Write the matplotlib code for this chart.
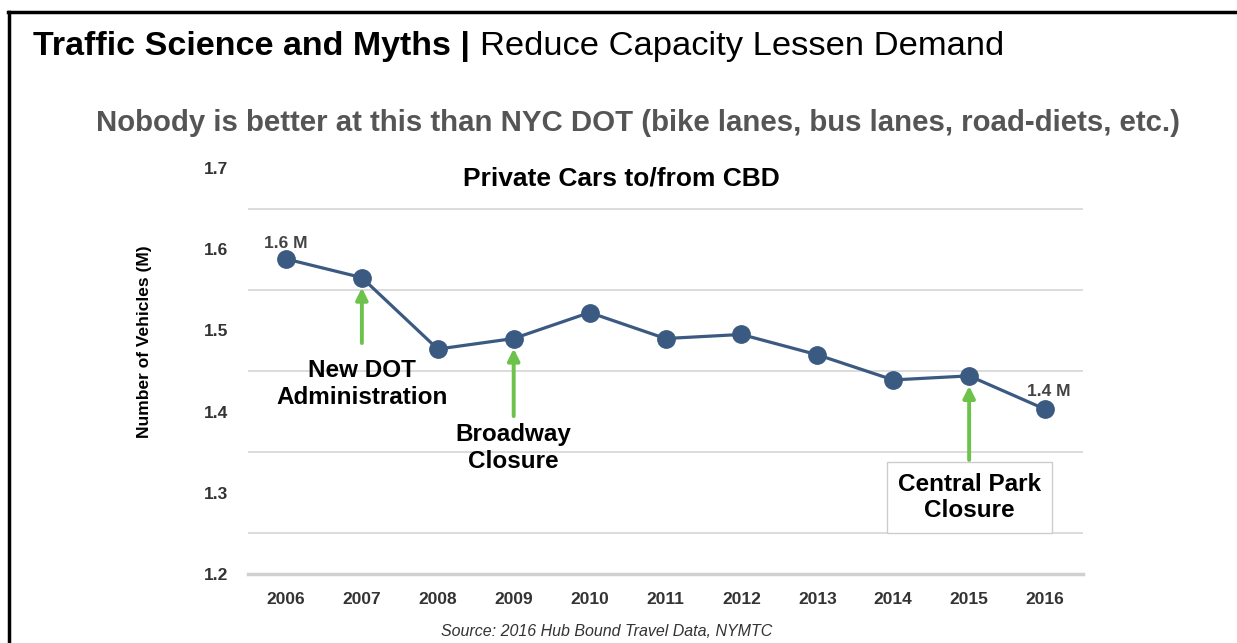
import numpy as np
import matplotlib.pyplot as plt
from matplotlib.lines import Line2D

plt.rcParams['font.family'] = ['Liberation Sans', 'DejaVu Sans']

years = [2006, 2007, 2008, 2009, 2010, 2011, 2012, 2013, 2014, 2015, 2016]
cars = [1.588, 1.565, 1.477, 1.490, 1.522, 1.490, 1.495, 1.470, 1.439, 1.444, 1.403]
yticks = [1.2, 1.3, 1.4, 1.5, 1.6, 1.7]
events = ['New DOT\nAdministration', 'Broadway\nClosure', 'Central Park\nClosure']
event_years = [2007, 2009, 2015]

blue = '#3b5a82'
green = '#6cc24a'

fig = plt.figure(figsize=(12.37, 6.43), dpi=100)
fig.patch.set_facecolor('white')

# slide frame (top + left only)
fig.add_artist(Line2D([8/1237, 1.0], [1 - 12/643, 1 - 12/643], color='black', lw=2.5))
fig.add_artist(Line2D([9/1237, 9/1237], [1 - 12/643, 0], color='black', lw=2.5))

fig.text(33/1237, 1 - 46/643, 'Traffic Science and Myths |', fontsize=24.5,
         fontweight='bold', va='center', ha='left')
fig.text(480/1237, 1 - 46/643, 'Reduce Capacity Lessen Demand', fontsize=24.8,
         va='center', ha='left')
fig.text(638/1237, 1 - 123/643,
         'Nobody is better at this than NYC DOT (bike lanes, bus lanes, road-diets, etc.)',
         fontsize=21.2, fontweight='bold', color='#555555', ha='center', va='center')
fig.text(607/1237, 1 - 631/643, 'Source: 2016 Hub Bound Travel Data, NYMTC',
         fontsize=11.5, style='italic', color='#333333', ha='center', va='center')
fig.text(621/1237, 1 - 179/643, 'Private Cars to/from CBD', fontsize=19,
         fontweight='bold', ha='center', va='center')
fig.text(145/1237, 1 - 342/643, 'Number of Vehicles (M)', rotation=90,
         fontsize=12.5, fontweight='bold', ha='center', va='center')

ax = fig.add_axes([248/1237, 1 - 574/643, 835/1237, 406/643])
ax.plot(years, cars, color=blue, lw=2.3, marker='o', ms=12.5, zorder=3)

ax.set_xlim(2005.5, 2016.5)
ax.set_ylim(1.2, 1.7)
ax.set_xticks(years)
ax.set_yticks(yticks)
ax.set_yticks(np.arange(1.25, 1.66, 0.1), minor=True)
ax.tick_params(which='both', length=0)
ax.tick_params(axis='y', pad=14, labelsize=12.5, labelcolor='#333333')
ax.tick_params(axis='x', pad=13, labelsize=12.5, labelcolor='#333333')
for lab in ax.get_xticklabels() + ax.get_yticklabels():
    lab.set_fontweight('bold')
ax.grid(which='minor', axis='y', color='#d9d9d9', lw=1.3)
for s in ['top', 'right', 'left']:
    ax.spines[s].set_visible(False)
ax.spines['bottom'].set_color('#d0d0d0')
ax.spines['bottom'].set_linewidth(2.5)

ax.text(2006.0, 1.607, '1.6 M', fontsize=12.5, fontweight='bold', color='#444444',
        ha='center', va='center')
ax.text(2016.05, 1.425, '1.4 M', fontsize=12.5, fontweight='bold', color='#444444',
        ha='center', va='center')

arrow_tips = [1.556, 1.481, 1.435]
arrow_tails = [1.481, 1.391, 1.337]
text_y = [1.434, 1.355, 1.294]
for name, yr, tip, tail, ty in zip(events, event_years, arrow_tips, arrow_tails, text_y):
    ax.annotate('', xy=(yr, tip), xytext=(yr, tail),
                arrowprops=dict(arrowstyle='-|>,head_width=0.35,head_length=0.7',
                                color=green, lw=2.8), zorder=4)
    box = None
    if yr == 2015:
        box = dict(boxstyle='square,pad=0.45', fc='white', ec='#cccccc', lw=1)
    ax.text(yr, ty, name, fontsize=17.5, fontweight='bold', ha='center',
            va='center', linespacing=1.2, bbox=box, zorder=5)

plt.savefig('out.png', dpi=100)
